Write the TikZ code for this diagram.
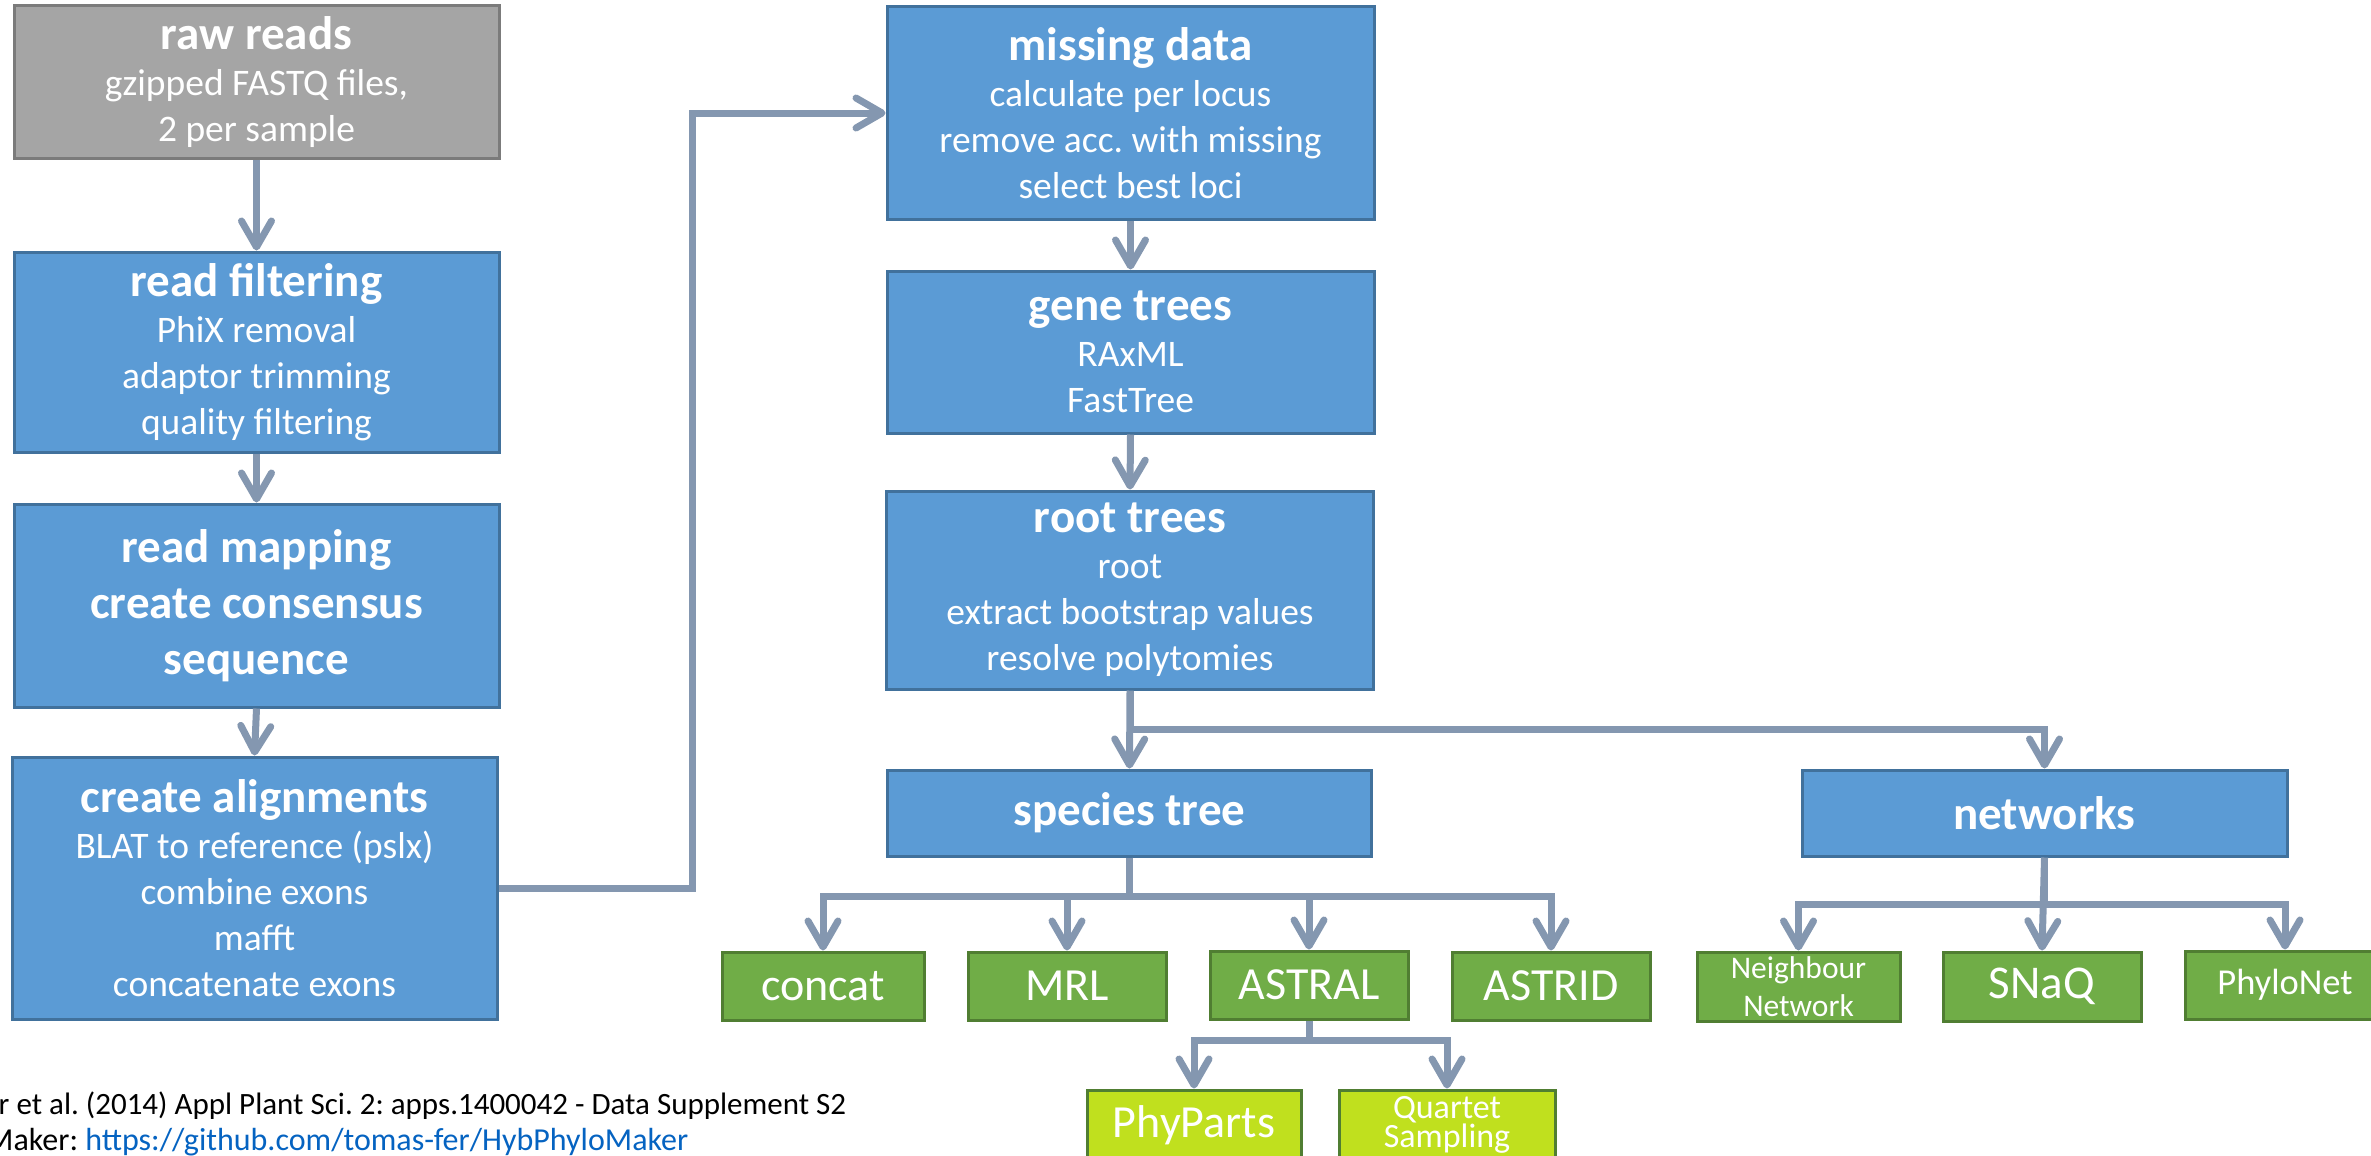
\documentclass[tikz,border=0pt]{standalone}
\usepackage{fontspec}
\setmainfont{Carlito}
\usetikzlibrary{arrows.meta}
\frenchspacing
\definecolor{bfill}{HTML}{5B9BD5}
\definecolor{bline}{HTML}{41719C}
\definecolor{gfill}{HTML}{A5A5A5}
\definecolor{gline}{HTML}{7B7B7B}
\definecolor{grfill}{HTML}{70AD47}
\definecolor{grline}{HTML}{507E32}
\definecolor{lgfill}{RGB}{192,224,30}
\definecolor{conn}{HTML}{8497B0}
\definecolor{linkc}{HTML}{0563C1}
\tikzset{
  box/.style={draw=bline, fill=bfill, line width=3pt, inner sep=0pt, align=center, text=white,
    font=\fontsize{37.5}{46}\selectfont},
  graybox/.style={box, draw=gline, fill=gfill},
  greenbox/.style={box, draw=grline, fill=grfill, font=\fontsize{46}{56}\selectfont},
  lgbox/.style={box, draw=grline, fill=lgfill, font=\fontsize{46}{56}\selectfont},
  arr/.style={draw=conn, line width=7pt, -{Straight Barb[length=26pt,width=30pt,round]}},
  ttl/.style={font=\fontsize{47}{56}\selectfont\bfseries}
}
\newcommand{\ttlx}[1]{{\fontsize{47}{46}\selectfont\bfseries #1}}
\begin{document}
\begin{tikzpicture}[x=1pt,y=-1pt]
\useasboundingbox (0,0) rectangle (2371,1156);
\clip (0,0) rectangle (2371,1156);
% left column
\node[graybox, minimum width=485, minimum height=152] (raw) at (256.5,82) {\ttlx{raw reads}\\gzipped FASTQ files,\\2 per sample};
\node[box, minimum width=485, minimum height=200] (filt) at (256.5,352) {\ttlx{read filtering}\\PhiX removal\\adaptor trimming\\quality filtering};
\node[box, ttl, minimum width=485, minimum height=203] (map) at (256.5,605.5) {read mapping\\create consensus\\sequence};
\node[box, minimum width=485, minimum height=262] (aln) at (254.5,888) {\ttlx{create alignments}\\BLAT to reference (pslx)\\combine exons\\mafft\\concatenate exons};
% middle column
\node[box, minimum width=487, minimum height=212] (miss) at (1130.5,113) {\ttlx{missing data}\\calculate per locus\\remove acc. with missing\\select best loci};
\node[box, minimum width=487, minimum height=162] (gene) at (1130.5,352) {\ttlx{gene trees}\\RAxML\\FastTree};
\node[box, minimum width=487, minimum height=198] (root) at (1130,590) {\ttlx{root trees}\\root\\extract bootstrap values\\resolve polytomies};
\node[box, ttl, minimum width=484, minimum height=86] (spec) at (1129.5,813) {species tree};
\node[box, ttl, minimum width=485, minimum height=86] (netw) at (2044.5,813) {networks};
% green boxes
\node[greenbox, minimum width=202, minimum height=68] (concat) at (823,986) {concat};
\node[greenbox, minimum width=198, minimum height=68] (mrl) at (1067,986) {MRL};
\node[greenbox, minimum width=198, minimum height=68] (astral) at (1309,985) {ASTRAL};
\node[greenbox, minimum width=198, minimum height=68] (astrid) at (1551,986) {ASTRID};
\node[greenbox, minimum width=203, minimum height=69, font=\fontsize{31.5}{38}\selectfont] (nn) at (1798.5,986.5) {Neighbour\\Network};
\node[greenbox, minimum width=198, minimum height=69, font=\fontsize{47}{56}\selectfont] (snaq) at (2042,986.5) {SNaQ};
\node[greenbox, minimum width=200, minimum height=68, font=\fontsize{36.5}{44}\selectfont] (pnet) at (2285,985) {PhyloNet};
\node[lgbox, minimum width=214, minimum height=70] (phyp) at (1194,1125) {PhyParts};
\node[lgbox, minimum width=216, minimum height=70, font=\fontsize{34}{29}\selectfont] (qs) at (1447,1125) {Quartet\\Sampling};
% bar coordinates
\coordinate (jcon) at (692,0);
\coordinate (brt) at (0,729);
\coordinate (bsp) at (0,896);
\coordinate (bnw) at (0,904);
\coordinate (bas) at (0,1040);
% connectors
\draw[arr] (raw.south) -- (filt.north);
\draw[arr] (filt.south) -- (map.north);
\draw[arr] (map.south) -- (aln.north);
\draw[arr] (aln.east) -- (aln.east -| jcon) -- (miss.west -| jcon) -- (miss.west);
\draw[arr] (miss.south) -- (gene.north);
\draw[arr] (gene.south) -- (root.north);
\draw[arr] (root.south) -- (spec.north);
\draw[arr] (root.south) -- (root.south |- brt) -| (netw.north);
\draw[arr] (spec.south) -- (spec.south |- bsp) -| (concat.north);
\draw[arr] (spec.south) -- (spec.south |- bsp) -| (mrl.north);
\draw[arr] (spec.south) -- (spec.south |- bsp) -| (astral.north);
\draw[arr] (spec.south) -- (spec.south |- bsp) -| (astrid.north);
\draw[arr] (netw.south) -- (netw.south |- bnw) -| (nn.north);
\draw[arr] (netw.south) -- (snaq.north);
\draw[arr] (netw.south) -- (netw.south |- bnw) -| (pnet.north);
\draw[arr] (astral.south) -- (astral.south |- bas) -| (phyp.north);
\draw[arr] (astral.south) -- (astral.south |- bas) -| (qs.north);
% footer text
\node[anchor=base west, inner sep=0pt, font=\fontsize{31}{36}\selectfont] (cite) at (-1.5,1114) {r et al. (2014) Appl Plant Sci. 2: apps.1400042 - Data Supplement S2};
\node[anchor=base west, inner sep=0pt, font=\fontsize{32}{36}\selectfont] (link) at (-14,1150) {Maker: \textcolor{linkc}{https://github.com/tomas-fer/HybPhyloMaker}};
\end{tikzpicture}
\end{document}
